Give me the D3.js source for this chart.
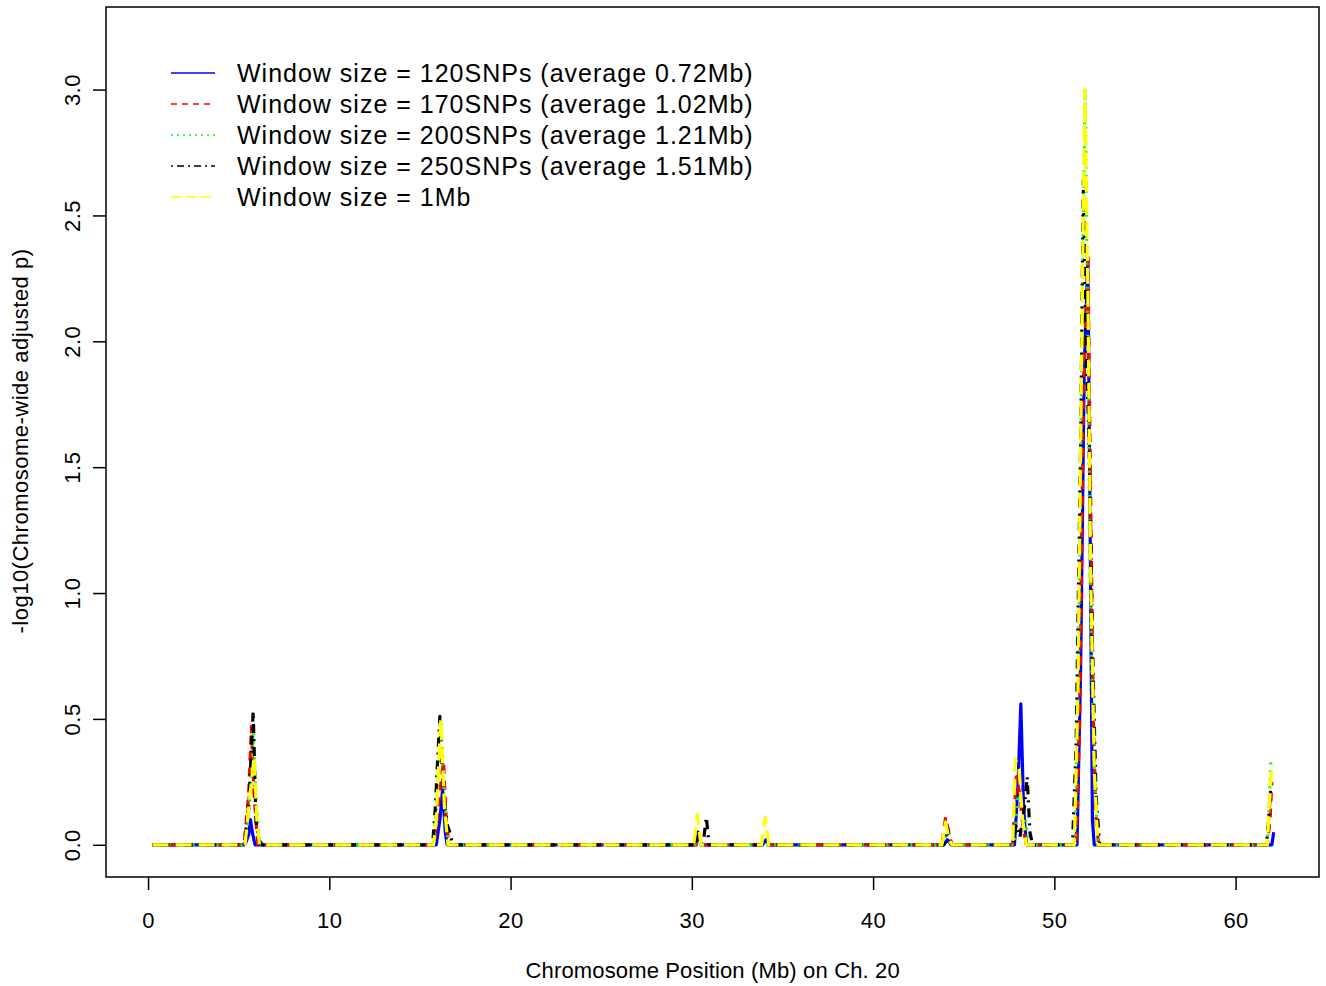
<!DOCTYPE html>
<html>
<head>
<meta charset="utf-8">
<script src="https://cdn.jsdelivr.net/npm/d3@7"></script>
<style>
  body { margin: 0; background: #fff; }
  text { font-family: "Liberation Sans", Arial, sans-serif; fill: #000; }
</style>
</head>
<body>
<div id="chart"></div>
<script>
var svgWidth = 1326;
var svgHeight = 986;

var margin = { top: 7, right: 7, bottom: 109, left: 106 };
var width = svgWidth - margin.left - margin.right;
var height = svgHeight - margin.top - margin.bottom;

// series: [position (Mb), -log10 p]
var snp120 = [[0.25,0],[5.35,0],[5.55,0.04],[5.65,0.1],[5.75,0.05],[5.9,0],[15.9,0],[16.1,0.1],[16.25,0.22],[16.4,0.05],[16.5,0],
  [30.2,0],[30.35,0.04],[30.5,0],[33.9,0],[34.1,0.02],[34.3,0],[43.9,0],[44.1,0.02],[44.3,0],
  [47.8,0],[48.0,0.25],[48.15,0.56],[48.3,0.15],[48.45,0],[51.25,0],[51.45,0.7],[51.65,1.9],[51.85,2.33],[51.98,1.2],[52.1,0.1],[52.2,0],
  [62.0,0],[62.1,0.05]];
var snp170 = [[0.25,0],[5.3,0],[5.55,0.2],[5.7,0.47],[5.85,0.2],[6.05,0],[15.8,0],[16.0,0.15],[16.3,0.33],[16.45,0.1],[16.6,0],
  [43.8,0],[44.0,0.11],[44.2,0.04],[44.35,0],[47.7,0],[47.9,0.27],[48.1,0.2],[48.3,0.05],[48.5,0],
  [51.2,0],[51.4,0.5],[51.6,1.8],[51.85,2.35],[52.0,1.4],[52.15,0.5],[52.3,0.1],[52.45,0],
  [61.75,0],[61.9,0.1],[62.0,0.25]];
var snp200 = [[0.25,0],[5.35,0],[5.6,0.15],[5.8,0.45],[5.95,0.2],[6.15,0],[15.75,0],[15.95,0.2],[16.15,0.5],[16.35,0.2],[16.55,0],
  [43.85,0],[44.05,0.05],[44.25,0],[47.8,0],[48.0,0.2],[48.2,0.15],[48.4,0.1],[48.6,0],
  [51.15,0],[51.35,0.8],[51.55,2.2],[51.7,3.0],[51.85,2.0],[52.0,0.9],[52.2,0.3],[52.4,0],
  [61.75,0],[61.85,0.15],[61.95,0.35]];
var snp250 = [[0.25,0],[5.3,0],[5.55,0.15],[5.8,0.53],[5.95,0.1],[6.1,0.02],[6.3,0],
  [15.7,0],[15.85,0.15],[15.95,0.3],[16.1,0.51],[16.3,0.2],[16.5,0.08],[16.65,0.05],[16.8,0],
  [30.2,0],[30.35,0.05],[30.5,0],[30.65,0.02],[30.8,0.11],[30.95,0],
  [43.9,0],[44.1,0.07],[44.3,0],[47.7,0],[47.9,0.08],[48.1,0.03],[48.35,0.15],[48.5,0.27],[48.65,0.05],[48.8,0],
  [51.0,0],[51.2,0.4],[51.45,1.6],[51.6,2.64],[51.75,2.0],[51.95,1.5],[52.1,0.8],[52.3,0.2],[52.5,0],
  [61.7,0],[61.8,0.08],[61.95,0.24]];
var win1mb = [[0.25,0],[5.35,0],[5.6,0.18],[5.85,0.35],[6.0,0.1],[6.15,0],[15.75,0],[15.9,0.1],[16.15,0.5],[16.35,0.15],[16.55,0],
  [30.1,0],[30.3,0.12],[30.5,0],[33.85,0],[34.05,0.11],[34.25,0],[43.8,0],[44.0,0.09],[44.2,0.02],[44.35,0],
  [47.7,0],[47.85,0.34],[48.05,0.3],[48.25,0.1],[48.45,0],
  [51.1,0],[51.3,0.6],[51.5,1.9],[51.68,3.0],[51.85,2.2],[52.0,1.1],[52.2,0.3],[52.4,0],
  [61.75,0],[61.85,0.15],[61.98,0.3]];

var seriesNames = [
  "Window size = 120SNPs (average 0.72Mb)",
  "Window size = 170SNPs (average 1.02Mb)",
  "Window size = 200SNPs (average 1.21Mb)",
  "Window size = 250SNPs (average 1.51Mb)",
  "Window size = 1Mb"
];
var seriesData = [snp120, snp170, snp200, snp250, win1mb];
var colors = ["#0000ff", "#ff0000", "#00ff00", "#000000", "#ffff00"];
var dashes = [null, "9,7", "2,6", "2,6,9,6", "16,7"];
var legendDashes = [null, "6,5", "2,4", "2,4,7,4", "10,5"];

var xTicks = [0, 10, 20, 30, 40, 50, 60];
var yTicks = [0, 0.5, 1, 1.5, 2, 2.5, 3];

var svg = d3.select("#chart")
  .append("svg")
  .attr("width", svgWidth)
  .attr("height", svgHeight);

var chartGroup = svg.append("g")
  .attr("transform", `translate(${margin.left}, ${margin.top})`);

var xScale = d3.scaleLinear()
  .domain([-2.32, 64.6])
  .range([0, width]);

var yScale = d3.scaleLinear()
  .domain([-0.128, 3.328])
  .range([height, 0]);

// lines
var line = d3.line()
  .x(d => xScale(d[0]))
  .y(d => yScale(d[1]));

seriesData.forEach(function(data, i) {
  chartGroup.append("path")
    .datum(data)
    .attr("d", line)
    .attr("fill", "none")
    .attr("stroke", colors[i])
    .attr("stroke-width", 3.2)
    .attr("stroke-linejoin", "round")
    .attr("stroke-dasharray", dashes[i]);
});

// box
chartGroup.append("rect")
  .attr("width", width)
  .attr("height", height)
  .attr("fill", "none")
  .attr("stroke", "#000")
  .attr("stroke-width", 1.5);

var bottomAxis = d3.axisBottom(xScale)
  .tickValues(xTicks)
  .tickSize(13)
  .tickPadding(22)
  .tickFormat(d3.format("d"));

var leftAxis = d3.axisLeft(yScale)
  .tickValues(yTicks)
  .tickSize(13)
  .tickFormat(d3.format(".1f"));

var xg = chartGroup.append("g")
  .attr("transform", `translate(0, ${height})`)
  .call(bottomAxis);

var yg = chartGroup.append("g")
  .call(leftAxis);

[xg, yg].forEach(function(g) {
  g.select(".domain").remove();
  g.selectAll(".tick line").attr("stroke", "#000").attr("stroke-width", 1.5);
  g.selectAll(".tick text").attr("font-size", "22px").attr("fill", "#000")
    .attr("letter-spacing", "0.5px")
    .style("font-family", "'Liberation Sans', Arial, sans-serif");
});

yg.selectAll(".tick text")
  .attr("x", null)
  .attr("dy", "0.35em")
  .attr("text-anchor", "middle")
  .attr("transform", "translate(-34,0) rotate(-90)");

// axis titles
chartGroup.append("text")
  .attr("transform", `translate(${-86}, ${height / 2 - 1}) rotate(-90)`)
  .attr("text-anchor", "middle")
  .attr("dy", "0.35em")
  .attr("font-size", "22px")
  .attr("letter-spacing", "0.5px")
  .text("-log10(Chromosome-wide adjusted p)");

chartGroup.append("text")
  .attr("x", xScale(31.15))
  .attr("y", height + 101)
  .attr("text-anchor", "middle")
  .attr("font-size", "22px")
  .attr("letter-spacing", "0.15px")
  .text("Chromosome Position (Mb) on Ch. 20");

// legend
var legend = svg.append("g")
  .attr("transform", "translate(171, 73)");

seriesNames.forEach(function(name, i) {
  var row = legend.append("g").attr("transform", `translate(0, ${i * 31})`);
  row.append("line")
    .attr("x1", 0).attr("x2", 44)
    .attr("stroke", colors[i])
    .attr("stroke-width", 1.5)
    .attr("stroke-dasharray", legendDashes[i]);
  row.append("text")
    .attr("x", 66)
    .attr("dy", "0.35em")
    .attr("font-size", "25px")
    .attr("letter-spacing", "1px")
    .text(name);
});
</script>
</body>
</html>
